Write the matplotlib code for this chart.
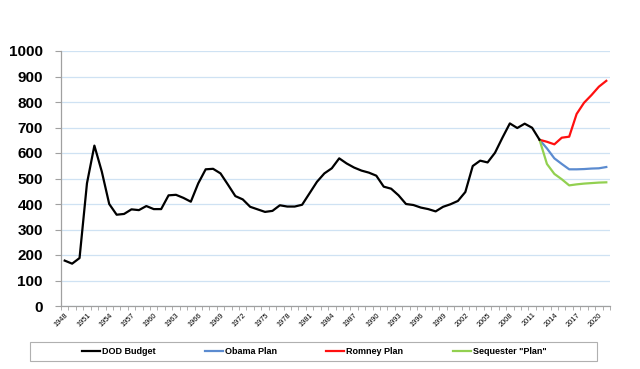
import matplotlib
matplotlib.use("Agg")
import matplotlib.pyplot as plt
from matplotlib.patches import Rectangle
import numpy as np

years = list(range(1948, 2022))
dod_budget = [178, 166, 188, 481, 629, 527, 400, 358, 361, 379, 376, 392, 380, 380,
              434, 436, 424, 409, 481, 536, 538, 520, 476, 431, 418, 389, 379, 369,
              373, 395, 390, 390, 397, 442, 487, 520, 540, 579, 559, 543, 531, 523,
              511, 468, 460, 434, 400, 396, 386, 380, 371, 389, 399, 412, 447, 549,
              570, 563, 601, 660, 716, 698, 715, 699, 652]
proj_years = list(range(2012, 2022))
obama_plan = [652, 618, 579, 557, 536, 536, 537, 539, 540, 545]
romney_plan = [652, 644, 634, 660, 664, 753, 797, 827, 860, 883]
sequester_plan = [652, 557, 518, 497, 473, 477, 480, 482, 484, 485]

plt.rcParams['font.family'] = ['Liberation Sans', 'DejaVu Sans']

fig = plt.figure(figsize=(6.4, 3.69), dpi=100)
ax = fig.add_axes([61/640, 1 - 306/369, (610 - 61)/640, (306 - 51)/369])

x_all = np.arange(len(years))
x_proj = np.array([years.index(y) for y in proj_years])

ax.plot(x_all[:len(dod_budget)], dod_budget, color='black', lw=1.6, label='DOD Budget', zorder=5)
ax.plot(x_proj, obama_plan, color='#5B8BD0', lw=1.6, label='Obama Plan', zorder=4)
ax.plot(x_proj, romney_plan, color='#FF1010', lw=1.6, label='Romney Plan', zorder=4)
ax.plot(x_proj, sequester_plan, color='#92D050', lw=1.6, label='Sequester "Plan"', zorder=4)

ax.set_xlim(-0.5, len(years) - 0.5)
ax.set_ylim(0, 1000)
ax.set_yticks(np.arange(0, 1001, 100))
ax.yaxis.grid(True, color='#CFE2F3', lw=0.9)
ax.set_axisbelow(True)
ax.tick_params(axis='y', labelsize=11, length=4, color='#A0A0A0', pad=9)
for t in ax.get_yticklabels():
    t.set_fontweight('bold')

major = x_all[::3]
ax.set_xticks(major)
ax.set_xticklabels([str(years[i]) for i in major], rotation=45, ha='right',
                   rotation_mode='anchor', fontsize=5.3)
ax.set_xticks(np.arange(-0.5, len(years), 1), minor=True)
ax.tick_params(axis='x', which='major', length=0, pad=4)
ax.tick_params(axis='x', which='minor', length=3, color='#A0A0A0')

for s in ['top', 'right']:
    ax.spines[s].set_visible(False)
for s in ['left', 'bottom']:
    ax.spines[s].set_color('#A0A0A0')
    ax.spines[s].set_linewidth(0.9)

fig.patches.append(Rectangle((30/640, 1 - 361/369), (597 - 30)/640, 19/369,
                             transform=fig.transFigure, fill=False,
                             edgecolor='#B0B0B0', lw=0.8))
handles, labels = ax.get_legend_handles_labels()
leg = fig.legend(handles, labels, loc='center', bbox_to_anchor=(314/640, 1 - 351.5/369),
                 ncol=4, frameon=False, prop={'size': 6.5, 'weight': 'bold'},
                 handlelength=2.0, handletextpad=0.2, columnspacing=5.5)

fig.savefig('out.png', dpi=100)
